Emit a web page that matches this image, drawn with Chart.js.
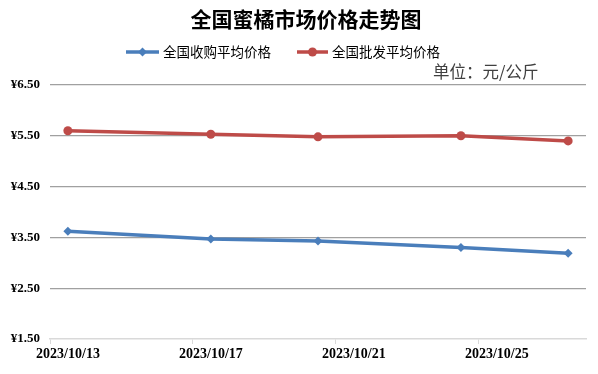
<!DOCTYPE html>
<html>
<head>
<meta charset="utf-8">
<script src="https://cdn.jsdelivr.net/npm/chart.js@4/dist/chart.umd.min.js"></script>
<style>
  body{margin:0;background:#fff;}
  #wrap{width:598px;height:374px;position:relative;}
</style>
</head>
<body>
<div id="wrap"><canvas id="priceChart"></canvas></div>
<script>
/**** 全国蜜橘市场价格走势图 ****/

// data (day of Oct 2023)
const monthPrefix    = "2023/10/";
const days           = [13, 17, 20, 24, 27];
const buyPrice       = [3.62, 3.47, 3.43, 3.30, 3.19];   // 全国收购平均价格
const wholesalePrice = [5.60, 5.53, 5.48, 5.50, 5.40];   // 全国批发平均价格
const xTickDays      = [13, 17, 21, 25];
const yTicks         = [1.5, 2.5, 3.5, 4.5, 5.5, 6.5];

const seriesNames = ["全国收购平均价格", "全国批发平均价格"];
const colors      = ["#4A7EBB", "#BE4B48"];
const cjk   = '"Noto Sans CJK SC", "Noto Sans", sans-serif';
const serif = '"Liberation Serif", "DejaVu Serif", serif';

const toPoints = arr => arr.map((v,i)=>({x:days[i], y:v}));

// title, legend (line + marker) and unit note
const headerPlugin = {
  id:"header",
  afterDraw(chart){
    const c = chart.ctx;
    c.save();
    c.fillStyle = "#000";
    c.font = "bold 21px " + cjk;
    c.textAlign = "center";
    c.textBaseline = "middle";
    c.fillText("全国蜜橘市场价格走势图", 306, 19);

    const items = [
      {x0:126, x1:159, tx:163, style:"rectRot", r:4.5},
      {x0:297, x1:328, tx:332, style:"circle",  r:4.5}
    ];
    items.forEach((it,i)=>{
      const y = 52;
      c.strokeStyle = colors[i];
      c.lineWidth = 3.5;
      c.beginPath(); c.moveTo(it.x0,y); c.lineTo(it.x1,y); c.stroke();
      c.fillStyle = colors[i];
      Chart.helpers.drawPoint(c, {pointStyle:it.style, radius:it.r, borderWidth:0}, (it.x0+it.x1)/2, y);
      c.fillStyle = "#000";
      c.font = "13.5px " + cjk;
      c.textAlign = "left";
      c.fillText(seriesNames[i], it.tx, y);
    });

    c.fillStyle = "#404040";
    c.font = "16.5px " + cjk;
    c.fillText("单位：元/公斤", 433, 72);
    c.restore();
  }
};

new Chart(document.getElementById("priceChart"), {
  type:"line",
  data:{
    datasets:[
      { label:seriesNames[0], data:toPoints(buyPrice), borderColor:colors[0], backgroundColor:colors[0],
        borderWidth:3.5, pointStyle:"rectRot", pointRadius:4.5, pointBorderWidth:0, tension:0 },
      { label:seriesNames[1], data:toPoints(wholesalePrice), borderColor:colors[1], backgroundColor:colors[1],
        borderWidth:3.5, pointStyle:"circle", pointRadius:4.5, pointBorderWidth:0, tension:0 }
    ]
  },
  options:{
    responsive:true,
    maintainAspectRatio:false,
    animation:false,
    layout:{padding:{top:85, right:12, left:10, bottom:0}},
    plugins:{legend:{display:false}, title:{display:false}, tooltip:{enabled:false}},
    scales:{
      x:{
        type:"linear",
        min:12.5, max:27.5,
        // tick marks sit between days, labels centred on the day
        afterBuildTicks: s => { s.ticks = xTickDays.map(d=>({value:d-0.5})); },
        afterFit: s => { s.height = 35; },
        grid:{drawOnChartArea:false, drawTicks:true, tickLength:5, color:"#d9d9d9"},
        border:{color:"#d9d9d9", width:1.5},
        ticks:{
          autoSkip:false, maxRotation:0, padding:2, labelOffset:18,
          color:"#000", font:{family:serif, size:14, weight:"bold"},
          callback: v => monthPrefix + (v+0.5)
        }
      },
      y:{
        min:1.5, max:6.5,
        afterBuildTicks: s => { s.ticks = yTicks.map(v=>({value:v})); },
        afterFit: s => { s.width = 40; },
        grid:{drawTicks:false, color: ctx => ctx.tick && ctx.tick.value===1.5 ? "rgba(0,0,0,0)" : "#a0a0a0", lineWidth:1.2},
        border:{display:false},
        ticks:{
          padding:10, color:"#000", font:{family:serif, size:13, weight:"bold"},
          callback: v => "¥" + v.toFixed(2)
        }
      }
    }
  },
  plugins:[headerPlugin]
});
</script>
</body>
</html>
